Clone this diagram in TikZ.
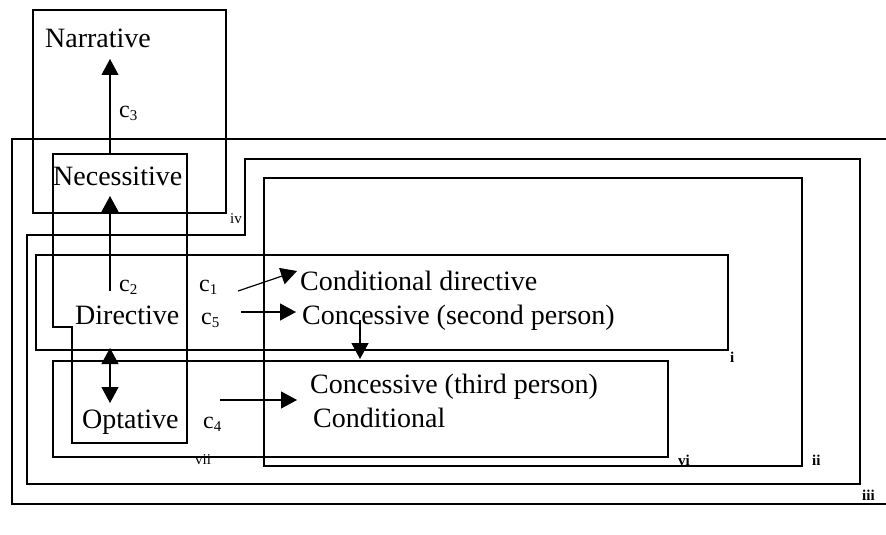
\documentclass[tikz,border=0pt]{standalone}
\usepackage{fontspec}
\setmainfont{Liberation Serif}
\usetikzlibrary{arrows.meta}
\newcommand{\cc}[1]{{\fontsize{24}{24}\selectfont c\raisebox{-3pt}{\fontsize{15}{15}\selectfont #1}}}
\tikzset{
  frame/.style={line width=1.2pt},
  txt/.style={anchor=base west, inner sep=0pt, font=\fontsize{28}{28}\selectfont},
  ctxt/.style={anchor=base west, inner sep=0pt},
  lab/.style={anchor=base west, inner sep=0pt, font=\fontsize{15}{15}\selectfont\bfseries},
  labn/.style={anchor=base west, inner sep=0pt, font=\fontsize{15}{15}\selectfont},
  arr/.style={line width=1.2pt, -{Triangle[length=16pt,width=17pt]}},
  darr/.style={line width=1.2pt, {Triangle[length=16pt,width=17pt]}-{Triangle[length=16pt,width=17pt]}}
}
\begin{document}
\begin{tikzpicture}[x=1pt,y=-1pt]
\useasboundingbox (0,0) rectangle (886,535);
% boxes
\draw[frame] (886,139) -- (12,139) -- (12,504) -- (886,504);
\draw[frame] (27,484) -- (27,235) -- (245,235) -- (245,159) -- (860,159) -- (860,484) -- cycle;
\draw[frame] (264,178) rectangle (802,466);
\draw[frame] (36,255) rectangle (728,350);
\draw[frame] (53,361) rectangle (668,457);
\draw[frame] (53,154) -- (187,154) -- (187,443) -- (72,443) -- (72,327) -- (53,327) -- cycle;
\draw[frame] (33,10) rectangle (226,213);
% texts
\node[txt] (nar) at (45,48) {Narrative};
\node[txt] (nec) at (53,185) {Necessitive};
\node[txt] (dir) at (75,324) {Directive};
\node[txt] (opt) at (82,428) {Optative};
\node[txt] (cdir) at (300,290) {Conditional directive};
\node[txt] (csec) at (302,324) {Concessive (second person)};
\node[txt] (cthi) at (310,393) {Concessive (third person)};
\node[txt] (cond) at (313,427) {Conditional};
\node[ctxt] (c3) at (119,117) {\cc{3}};
\node[ctxt] (c2) at (119,291) {\cc{2}};
\node[ctxt] (c1) at (199,291) {\cc{1}};
\node[ctxt] (c5) at (201,324) {\cc{5}};
\node[ctxt] (c4) at (203,428) {\cc{4}};
% box labels
\node[labn] (liv) at (230,223) {iv};
\node[lab] (li) at (730,362) {i};
\node[lab] (lvi) at (678,465) {vi};
\node[lab] (lii) at (812,465) {ii};
\node[lab] (liii) at (862,500) {iii};
\node[labn] (lvii) at (195,464) {vii};
% arrow end points
\coordinate (necTop) at (110,154);
\coordinate (narBot) at (110,59);
\coordinate (dirTop) at (110,291);
\coordinate (necBot) at (110,196);
\coordinate (dirBot) at (110,348);
\coordinate (optTop) at (110,403);
\coordinate (c1e) at (238,291);
\coordinate (cdirW) at (297,271);
\coordinate (c5e) at (241,312);
\coordinate (csecW) at (296,312);
\coordinate (c4e) at (220,400);
\coordinate (condW) at (297,400);
\coordinate (csecS) at (360,320);
\coordinate (cthiN) at (360,359);
% connectors
\draw[arr] (necTop) -- (narBot);
\draw[arr] (dirTop) -- (necBot);
\draw[darr] (dirBot) -- (optTop);
\draw[arr] (c1e) -- (cdirW);
\draw[arr] (c5e) -- (csecW);
\draw[arr] (c4e) -- (condW);
\draw[arr] (csecS) -- (cthiN);
\end{tikzpicture}
\end{document}
